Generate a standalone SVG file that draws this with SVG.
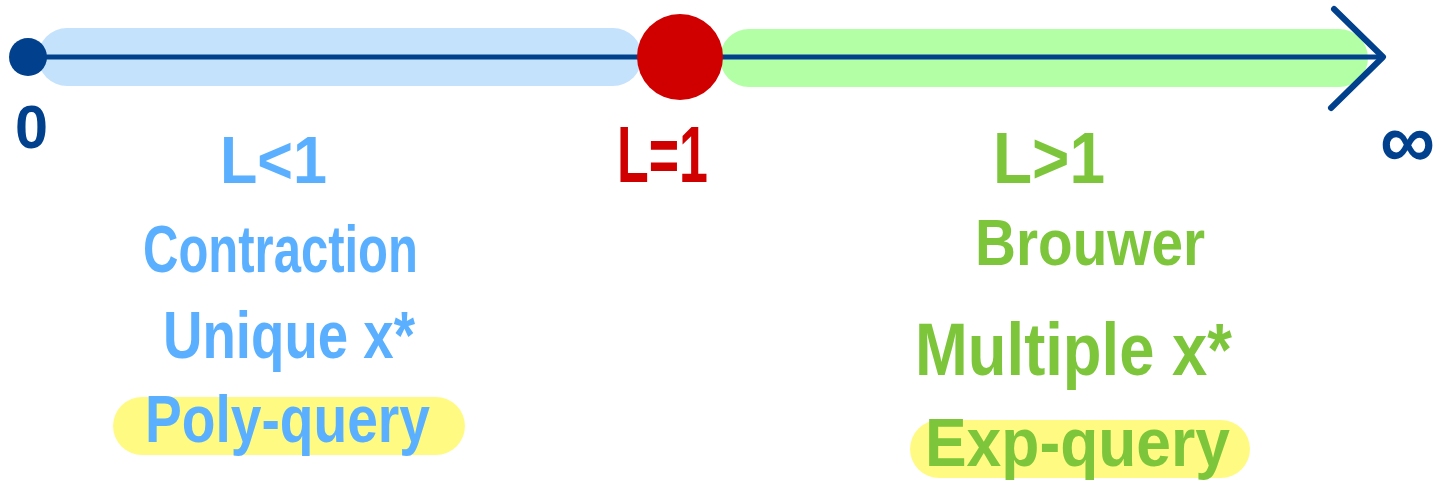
<svg xmlns="http://www.w3.org/2000/svg" width="1442" height="491" viewBox="0 0 1442 491">
<style>
.t{font-family:"Liberation Sans",Arial,sans-serif;font-weight:bold}
.blue{fill:#5ab0ff}.green{fill:#7dc63b}.red{fill:#d10000}.dark{fill:#00408c}
.hl{fill:#fffb82}
</style>
<rect width="1442" height="491" fill="#ffffff"/>
<g id="bands">
<rect x="38" y="28" width="604" height="58" rx="29" fill="#c5e2fc"/>
<rect x="720" y="29" width="648" height="58" rx="29" fill="#b3ffa6"/>
</g>
<g id="connectors">
<line x1="28" y1="57" x2="1383" y2="57" stroke="#00408c" stroke-width="5"/>
<polyline points="1334,9 1383,57 1331,108" fill="none" stroke="#00408c" stroke-width="6" stroke-linecap="round" stroke-linejoin="round"/>
</g>
<g id="origin">
<circle cx="28" cy="57" r="19" fill="#00408c"/>
<text class="t dark" x="15" y="148" font-size="62" textLength="33" lengthAdjust="spacingAndGlyphs">0</text>
</g>
<g id="critical">
<circle cx="680" cy="57" r="43" fill="#d10000"/>
<text class="t red" x="617" y="182" font-size="80" textLength="91" lengthAdjust="spacingAndGlyphs">L=1</text>
</g>
<g id="infinity">
<text class="t dark" x="1380" y="168" font-size="80" font-family="DejaVu Sans" textLength="55" lengthAdjust="spacingAndGlyphs">∞</text>
</g>
<g id="left">
<text class="t blue" x="220" y="183" font-size="66" textLength="107" lengthAdjust="spacingAndGlyphs">L&lt;1</text>
<text class="t blue" x="143" y="272" font-size="66" textLength="275" lengthAdjust="spacingAndGlyphs">Contraction</text>
<text class="t blue" x="163" y="358" font-size="66" textLength="252" lengthAdjust="spacingAndGlyphs">Unique x*</text>
<rect class="hl" x="113" y="397" width="352" height="58" rx="29"/>
<text class="t blue" x="145" y="442" font-size="66" textLength="285" lengthAdjust="spacingAndGlyphs">Poly-query</text>
</g>
<g id="right">
<text class="t green" x="993" y="183" font-size="72" textLength="112" lengthAdjust="spacingAndGlyphs">L&gt;1</text>
<text class="t green" x="975" y="265" font-size="64" textLength="230" lengthAdjust="spacingAndGlyphs">Brouwer</text>
<text class="t green" x="915" y="375" font-size="74" textLength="317" lengthAdjust="spacingAndGlyphs">Multiple x*</text>
<rect class="hl" x="910" y="420" width="340" height="58" rx="29"/>
<text class="t green" x="925" y="466" font-size="68" textLength="305" lengthAdjust="spacingAndGlyphs">Exp-query</text>
</g>
</svg>
